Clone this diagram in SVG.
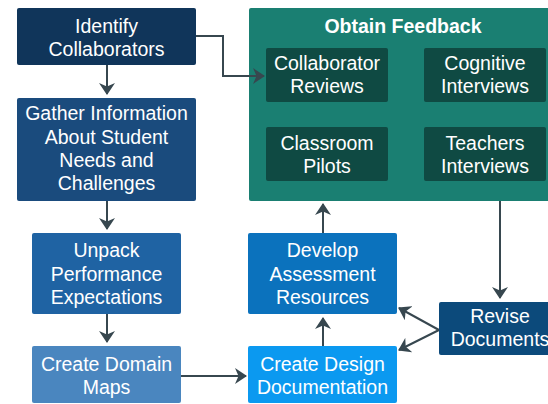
<svg xmlns="http://www.w3.org/2000/svg" width="548" height="404" viewBox="0 0 548 404">
  <style>
    .lbl { font-family: "Liberation Sans", Arial, sans-serif; font-size: 19.5px; fill: #ffffff; text-anchor: middle; }
    .title { font-family: "Liberation Sans", Arial, sans-serif; font-size: 19.5px; font-weight: bold; fill: #ffffff; text-anchor: middle; }
    .edge { fill: none; stroke: #37474f; stroke-width: 2; marker-end: url(#arrow); }
    .inner { fill: #0f4a43; }
  </style>
  <defs>
    <marker id="arrow" markerUnits="userSpaceOnUse" markerWidth="12" markerHeight="16" viewBox="0 0 12 16" refX="11" refY="8" orient="auto">
      <path d="M0,0 L12,8 L0,16 L3.5,8 z" fill="#37474f"/>
    </marker>
  </defs>
  <rect width="548" height="404" fill="#ffffff"/>

  <g id="obtain-feedback">
    <rect x="249" y="8" width="310" height="193" rx="2" fill="#1a7f72"/>
    <text class="title" x="403" y="33">Obtain Feedback</text>
    <g id="collaborator-reviews">
      <rect class="inner" x="266" y="48" width="122" height="54" rx="2"/>
      <text class="lbl" x="327" y="70">Collaborator</text>
      <text class="lbl" x="327" y="93">Reviews</text>
    </g>
    <g id="cognitive-interviews">
      <rect class="inner" x="424" y="48" width="122" height="54" rx="2"/>
      <text class="lbl" x="485" y="70">Cognitive</text>
      <text class="lbl" x="485" y="93">Interviews</text>
    </g>
    <g id="classroom-pilots">
      <rect class="inner" x="266" y="127" width="122" height="54" rx="2"/>
      <text class="lbl" x="327" y="150">Classroom</text>
      <text class="lbl" x="327" y="173">Pilots</text>
    </g>
    <g id="teachers-interviews">
      <rect class="inner" x="424" y="127" width="122" height="54" rx="2"/>
      <text class="lbl" x="485" y="150">Teachers</text>
      <text class="lbl" x="485" y="173">Interviews</text>
    </g>
  </g>

  <g id="connectors">
    <path class="edge" d="M196,36 H223 V76 H264"/>
    <path class="edge" d="M107,65 V94"/>
    <path class="edge" d="M107,201 V229"/>
    <path class="edge" d="M107,314 V342"/>
    <path class="edge" d="M181,376 H246"/>
    <path class="edge" d="M323,346 V318"/>
    <path class="edge" d="M323,233 V204"/>
    <path class="edge" d="M500,201 V298"/>
    <path class="edge" d="M439,330 L399,308"/>
    <path class="edge" d="M439,330 L399,350"/>
  </g>

  <g id="identify-collaborators">
    <rect x="17" y="8" width="179" height="57" rx="2" fill="#10355a"/>
    <text class="lbl" x="106.5" y="33">Identify</text>
    <text class="lbl" x="106.5" y="56">Collaborators</text>
  </g>
  <g id="gather-information">
    <rect x="17" y="98" width="179" height="103" rx="2" fill="#1a4b7d"/>
    <text class="lbl" x="106.5" y="120">Gather Information</text>
    <text class="lbl" x="106.5" y="144">About Student</text>
    <text class="lbl" x="106.5" y="167">Needs and</text>
    <text class="lbl" x="106.5" y="190">Challenges</text>
  </g>
  <g id="unpack-performance">
    <rect x="32" y="233" width="149" height="81" rx="2" fill="#1f63a3"/>
    <text class="lbl" x="106.5" y="257">Unpack</text>
    <text class="lbl" x="106.5" y="281">Performance</text>
    <text class="lbl" x="106.5" y="304">Expectations</text>
  </g>
  <g id="create-domain-maps">
    <rect x="32" y="346" width="149" height="57" rx="2" fill="#4a86bf"/>
    <text class="lbl" x="106.5" y="371">Create Domain</text>
    <text class="lbl" x="106.5" y="394">Maps</text>
  </g>
  <g id="develop-assessment">
    <rect x="248" y="233" width="149" height="81" rx="2" fill="#0b72bd"/>
    <text class="lbl" x="322.5" y="257">Develop</text>
    <text class="lbl" x="322.5" y="281">Assessment</text>
    <text class="lbl" x="322.5" y="304">Resources</text>
  </g>
  <g id="create-design-documentation">
    <rect x="248" y="346" width="149" height="57" rx="2" fill="#0b99f0"/>
    <text class="lbl" x="322.5" y="371">Create Design</text>
    <text class="lbl" x="322.5" y="394">Documentation</text>
  </g>
  <g id="revise-documents">
    <rect x="439" y="302" width="122" height="53" rx="2" fill="#0c4a7b"/>
    <text class="lbl" x="500" y="323">Revise</text>
    <text class="lbl" x="500" y="346">Documents</text>
  </g>
</svg>
